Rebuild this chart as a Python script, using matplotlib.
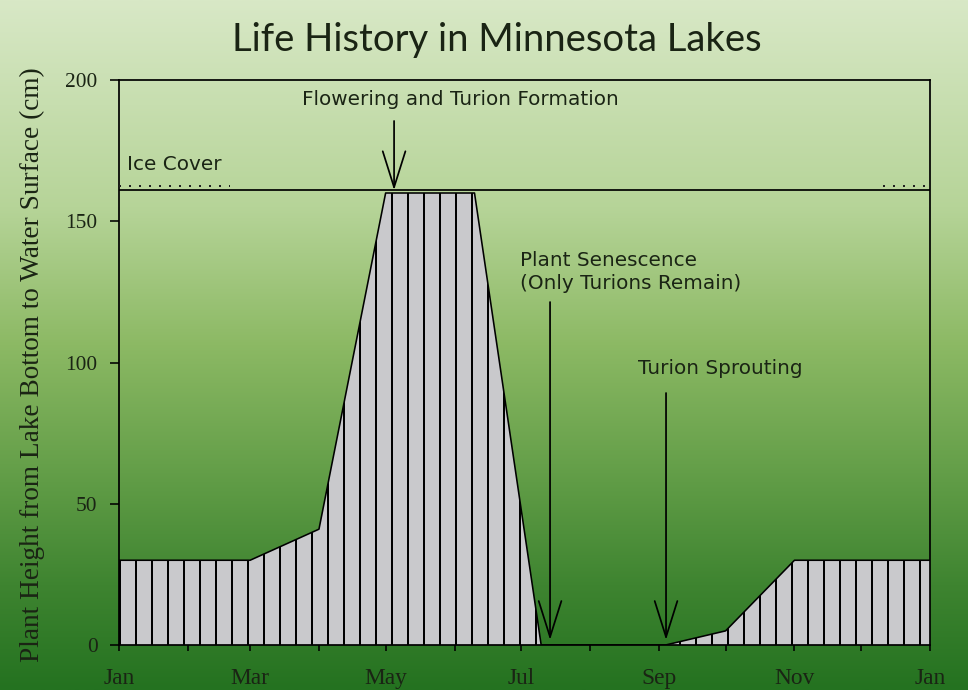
import numpy as np
import matplotlib
matplotlib.use("Agg")
import matplotlib.pyplot as plt
from matplotlib.colors import LinearSegmentedColormap

# ---- data ----
day_of_year = [0, 59, 90, 120, 160, 190, 246, 273, 304, 365]
plant_height = [30, 30, 41, 160, 160, 0, 0, 5, 30, 30]
water_surface = 161
ice_level = 162.5
ice_periods = [(0, 50), (344, 363)]
month_starts = [0, 31, 59, 90, 120, 151, 181, 212, 243, 273, 304, 334, 365]
major_ticks = [0, 59, 120, 181, 243, 304, 365]
major_labels = ["Jan", "Mar", "May", "Jul", "Sep", "Nov", "Jan"]
y_ticks = [0, 50, 100, 150, 200]

events = [
    # text, text_x, text_y, arrow_x, arrow_tail, arrow_tip, ha
    ("Flowering and Turion Formation", 153.5, 193, 123.8, 185.5, 161, "center"),
    ("Plant Senescence\n(Only Turions Remain)", 180.5, 132, 194, 121.4, 1.8, "left"),
    ("Turion Sprouting", 233.6, 98, 246.2, 89.2, 1.8, "left"),
]

DPI = 96
plt.rcParams["hatch.linewidth"] = 1.5
fig = plt.figure(figsize=(968 / DPI, 690 / DPI), dpi=DPI)

# background gradient
bg = fig.add_axes([0, 0, 1, 1], zorder=-10)
stops = [(0.0, (216/255, 232/255, 198/255)),
         (0.3, (182/255, 212/255, 152/255)),
         (0.5, (140/255, 185/255, 100/255)),
         (0.7, (96/255, 156/255, 70/255)),
         (0.85, (62/255, 132/255, 48/255)),
         (1.0, (36/255, 114/255, 32/255))]
cmap = LinearSegmentedColormap.from_list("bg", stops)
grad = np.linspace(0, 1, 256).reshape(-1, 1)
bg.imshow(grad, aspect="auto", cmap=cmap, extent=[0, 1, 0, 1], origin="upper")
bg.set_axis_off()

txt = "#1a2414"
ann_font = dict(fontsize=15, family="DejaVu Sans", color=txt)
ax = fig.add_axes([119 / 968, 45 / 690, 811 / 968, 565 / 690])
ax.set_facecolor("none")
ax.set_xlim(0, 365)
ax.set_ylim(0, 200)

ax.fill_between(day_of_year, plant_height, 0, facecolor="#c9c9cc",
                edgecolor="black", hatch="|", linewidth=0, zorder=2)
ax.plot(day_of_year, plant_height, color="black", lw=1.2, zorder=3)

ax.axhline(water_surface, color="black", lw=1.3, zorder=4)
for a, b in ice_periods:
    ax.plot([a, b], [ice_level, ice_level], color="#222222", lw=1.5,
            linestyle=(0, (1, 4)), zorder=4)
ax.text(3.6, 170, "Ice Cover", ha="left", va="center", **ann_font)

for label, tx, ty, axx, tail, tip, ha in events:
    ax.text(tx, ty, label, ha=ha, va="center", linespacing=1.3, **ann_font)
    ax.annotate("", xy=(axx, tip), xytext=(axx, tail),
                arrowprops=dict(arrowstyle="->,head_length=2.7,head_width=0.85",
                                lw=1.3, color="black", shrinkA=0, shrinkB=0,
                                mutation_scale=10), zorder=5)

for s in ax.spines.values():
    s.set_linewidth(1.3)
    s.set_color("black")

ax.set_xticks(major_ticks)
ax.set_xticklabels(major_labels)
ax.set_xticks(month_starts, minor=True)
ax.set_yticks(y_ticks)
ax.tick_params(axis="x", which="both", direction="out", length=4.5, width=1.2,
               pad=13, labelsize=17.5, labelcolor=txt)
ax.tick_params(axis="y", direction="out", length=7, width=1.2, pad=9,
               labelsize=16, labelcolor=txt)
for lab in ax.get_xticklabels() + ax.get_yticklabels():
    lab.set_family("Liberation Serif")

fig.text(32 / 968, 1 - 365 / 690,
         "Plant Height from Lake Bottom to Water Surface (cm)",
         rotation=90, ha="center", va="center", fontsize=20.4,
         family="Liberation Serif", color=txt)
fig.text(497 / 968, 1 - 40 / 690, "Life History in Minnesota Lakes",
         ha="center", va="center", fontsize=28.7, family="Lato", color=txt)

fig.savefig("out.png", dpi=DPI)
